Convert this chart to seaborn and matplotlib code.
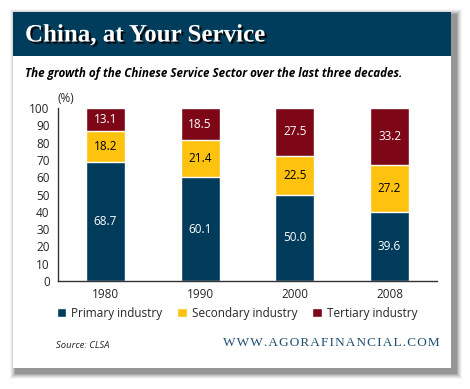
import matplotlib
matplotlib.use("Agg")
import matplotlib.pyplot as plt
import matplotlib.patheffects as pe
from matplotlib.patches import Rectangle
import numpy as np
import pandas as pd
import seaborn as sns

years = ["1980", "1990", "2000", "2008"]
primary = [68.7, 60.1, 50.0, 39.6]
secondary = [18.2, 21.4, 22.5, 27.2]
tertiary = [13.1, 18.5, 27.5, 33.2]
yticks = list(range(0, 101, 10))

BLUE = "#003b5c"
YELLOW = "#ffc20e"
RED = "#7d0717"
HEADER = "#003d5c"

sns.set_theme(style="white")
plt.rcParams["font.family"] = ["Open Sans", "DejaVu Sans"]

df = pd.DataFrame({"year": years, "primary": primary,
                   "secondary": secondary, "tertiary": tertiary})
df["lvl2"] = df["primary"] + df["secondary"]
df["lvl3"] = df["lvl2"] + df["tertiary"]

fig = plt.figure(figsize=(4.7, 3.89), dpi=100)
fig.patch.set_facecolor("white")

W, H = 470, 389
def fx(px):
    return px / W
def fy(py):
    return 1 - py / H

# soft drop shadow around card
for i, a in enumerate([0.04, 0.05, 0.07, 0.09, 0.11, 0.13]):
    d = 7 - i
    fig.patches.append(Rectangle((fx(13 - d + 4), fy(368 + d + 4)),
                                 fx(438 + 2 * d), (356 + 2 * d) / H,
                                 transform=fig.transFigure, color="black",
                                 alpha=a, lw=0, zorder=0))
# card
fig.patches.append(Rectangle((fx(13), fy(368)), fx(438), 356 / H,
                             transform=fig.transFigure, color="white",
                             lw=0, zorder=1))
# header band
fig.patches.append(Rectangle((fx(13), fy(56)), fx(438), 44 / H,
                             transform=fig.transFigure, color=HEADER,
                             lw=0, zorder=2))

fig.text(fx(25), fy(35), "China, at Your Service", color="white",
         fontsize=18, fontweight="bold", family=["Liberation Serif", "DejaVu Serif"],
         va="center", ha="left", zorder=3,
         path_effects=[pe.withSimplePatchShadow(offset=(1.5, -1.5),
                                                shadow_rgbFace="black",
                                                alpha=0.9)])
fig.text(fx(25), fy(74), "The growth of the Chinese Service Sector over the last three decades.",
         fontsize=8.4, fontweight="bold", fontstyle="italic", color="black",
         va="center", ha="left", zorder=3)

ax = fig.add_axes([fx(58), fy(281), fx(437 - 58), (281 - 108) / H])
ax.set_zorder(3)
ax.patch.set_alpha(0)

sns.barplot(data=df, x="year", y="lvl3", color=RED, width=0.41,
            saturation=1, ax=ax, label="Tertiary industry")
sns.barplot(data=df, x="year", y="lvl2", color=YELLOW, width=0.41,
            saturation=1, ax=ax, label="Secondary industry")
sns.barplot(data=df, x="year", y="primary", color=BLUE, width=0.41,
            saturation=1, ax=ax, label="Primary industry")

for i in range(len(years)):
    segs = [(0, primary[i], "white"),
            (primary[i], secondary[i], "black"),
            (primary[i] + secondary[i], tertiary[i], "white")]
    for base, val, col in segs:
        ax.text(i, base + val / 2, f"{val:.1f}", ha="center", va="center",
                color=col, fontsize=8.5)

ax.set_xlim(-0.5, len(years) - 0.5)
ax.set_ylim(0, 100)
ax.set_yticks(yticks)
ax.set_yticklabels([str(t) for t in yticks], fontsize=8.5)
ax.set_xticks(range(len(years)))
ax.set_xticklabels(years, fontsize=8.5)
ax.set_xticks(np.arange(-0.5, len(years), 1.0), minor=True)
ax.tick_params(axis="x", which="major", length=0, pad=5)
ax.tick_params(axis="x", which="minor", length=4, width=1, direction="out", color="#333333")
ax.tick_params(axis="y", length=4, width=1, direction="out", color="#333333", pad=2)
ax.set_xlabel("")
ax.set_ylabel("")
for s in ["top", "right"]:
    ax.spines[s].set_visible(False)
for s in ["left", "bottom"]:
    ax.spines[s].set_color("#333333")
    ax.spines[s].set_linewidth(1)
ax.text(0, 1.02, "(%)", transform=ax.transAxes, fontsize=8.5,
        ha="left", va="bottom")

handles, labels = ax.get_legend_handles_labels()
ax.legend(handles[::-1], labels[::-1], ncol=3, frameon=False,
          loc="center left", fontsize=8.5,
          handlelength=0.8, handleheight=0.8, handletextpad=0.4,
          columnspacing=1.3, borderaxespad=0,
          bbox_to_anchor=(fx(52), fy(313)), bbox_transform=fig.transFigure)

fig.text(fx(56), fy(345), "Source: CLSA", fontsize=6.8, fontstyle="italic",
         va="center", ha="left", zorder=3)
fig.text(fx(440), fy(343), "W W W . A G O R A F I N A N C I A L . C O M".replace(" ", "\u200a"),
         fontsize=9.5, color="#1d4f70",
         family=["Liberation Serif", "DejaVu Serif"],
         va="center", ha="right", zorder=3)

fig.savefig("out.png", dpi=100)
